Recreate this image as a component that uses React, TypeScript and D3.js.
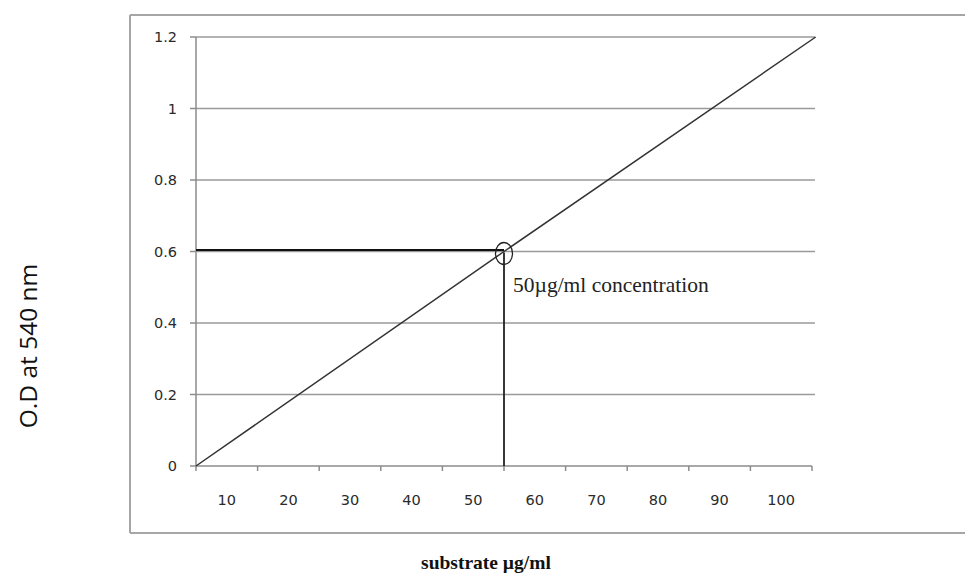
import React from "react";
import * as d3 from "d3";

const xTickLabels = [10, 20, 30, 40, 50, 60, 70, 80, 90, 100];
const xTickBounds = [5, 15, 25, 35, 45, 55, 65, 75, 85, 95, 105];
const yTicks = [0, 0.2, 0.4, 0.6, 0.8, 1, 1.2];
const lineX = [5, 55, 105.6];
const lineY = [0, 0.6, 1.2];
const markerX = 55;
const markerY = 0.6;
const annotation = "50\u00b5g/ml concentration";
const xTitle = "substrate \u00b5g/ml";
const yTitle = "O.D at 540 nm";

const W = 965;
const H = 573;

export default function App() {
  const x = d3.scaleLinear().domain([5, 105]).range([196, 812]);
  const y = d3.scaleLinear().domain([0, 1.2]).range([466, 37]);
  const line = d3
    .line<number>()
    .x((_, i) => x(lineX[i]))
    .y((d) => y(d));
  const mx = x(markerX);
  const my = y(markerY);
  const gridRight = 815;

  return (
    <svg
      width={W}
      height={H}
      style={{ position: "absolute", left: 0, top: 0, background: "#fff" }}
    >
      {/* frame */}
      <line x1={130} x2={W} y1={15} y2={15} stroke="#a6a6a6" strokeWidth={2} />
      <line x1={130} x2={W} y1={533} y2={533} stroke="#a6a6a6" strokeWidth={2} />
      <line x1={130} x2={130} y1={15} y2={533} stroke="#a6a6a6" strokeWidth={2} />

      {/* gridlines */}
      {yTicks.slice(1).map((t) => (
        <line
          key={"g" + t}
          x1={x(5)}
          x2={gridRight}
          y1={y(t)}
          y2={y(t)}
          stroke="#9a9a9a"
          strokeWidth={1.5}
        />
      ))}

      {/* y axis */}
      <line x1={x(5)} x2={x(5)} y1={y(1.2)} y2={y(0)} stroke="#8c8c8c" strokeWidth={1.5} />
      {yTicks.map((t) => (
        <g key={"y" + t}>
          <line x1={x(5) - 6} x2={x(5)} y1={y(t)} y2={y(t)} stroke="#8c8c8c" strokeWidth={1.5} />
          <text
            x={177}
            y={y(t)}
            dy="0.35em"
            textAnchor="end"
            fontFamily="DejaVu Sans"
            fontSize={14.5}
            fill="#2a2a2a"
          >
            {String(t)}
          </text>
        </g>
      ))}

      {/* x axis */}
      <line x1={x(5)} x2={x(105)} y1={y(0)} y2={y(0)} stroke="#8c8c8c" strokeWidth={1.5} />
      {xTickBounds.map((t) => (
        <line key={"xt" + t} x1={x(t)} x2={x(t)} y1={y(0)} y2={y(0) + 5} stroke="#8c8c8c" strokeWidth={1.5} />
      ))}
      {xTickLabels.map((t) => (
        <text
          key={"xl" + t}
          x={x(t)}
          y={505}
          textAnchor="middle"
          fontFamily="DejaVu Sans"
          fontSize={14.5}
          fill="#2a2a2a"
        >
          {t}
        </text>
      ))}

      {/* data line */}
      <path d={line(lineY) || ""} fill="none" stroke="#333" strokeWidth={1.5} />

      {/* marker lines */}
      <line x1={x(5)} x2={mx} y1={my - 1.5} y2={my - 1.5} stroke="#111" strokeWidth={2} />
      <line x1={mx} x2={mx} y1={my + 1} y2={y(0)} stroke="#222" strokeWidth={1.8} />
      <ellipse cx={mx} cy={my + 2} rx={8.5} ry={11} fill="none" stroke="#222" strokeWidth={1.3} />

      {/* annotation */}
      <text x={513} y={292} fontFamily="Liberation Serif" fontSize={21.5} fill="#222">
        {annotation}
      </text>

      {/* axis titles */}
      <text
        x={486}
        y={569}
        textAnchor="middle"
        fontFamily="Liberation Serif"
        fontWeight="bold"
        fontSize={19.5}
        fill="#111"
      >
        {xTitle}
      </text>
      <text
        transform={`translate(37,346) rotate(-90)`}
        textAnchor="middle"
        fontFamily="Open Sans"
        fontSize={24.5}
        fill="#111"
      >
        {yTitle}
      </text>
    </svg>
  );
}
